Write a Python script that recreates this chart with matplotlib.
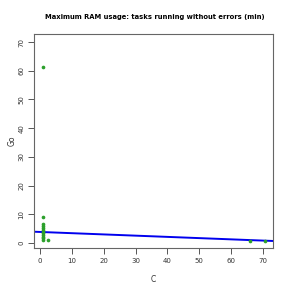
import matplotlib
matplotlib.use("Agg")
import matplotlib.pyplot as plt
import numpy as np

x_vals = [0.9, 0.9, 0.9, 0.9, 0.9, 0.9, 0.9, 0.9, 0.9, 0.9, 0.9, 0.9, 2.6, 66.0, 70.5]
y_vals = [61.3, 9.2, 6.7, 6.0, 5.3, 4.5, 3.9, 3.4, 2.8, 2.2, 1.6, 0.9, 0.9, 0.8, 0.8]
fit_intercept = 3.85
fit_slope = -0.043
x_ticks = [0, 10, 20, 30, 40, 50, 60, 70]
y_ticks = [0, 10, 20, 30, 40, 50, 60, 70]

fig = plt.figure(figsize=(2.91, 2.91), dpi=100)
ax = fig.add_axes([0.1168, 0.1467, 0.939 - 0.1168, 0.883 - 0.1467])

ax.scatter(x_vals, y_vals, s=7, color="#2ca02c", zorder=3, linewidths=0)
xlim = (-1.9, 73.2)
xl = np.array(xlim)
ax.plot(xl, fit_intercept + fit_slope * xl, color="#0000ee", lw=1.4, zorder=2)
ax.set_xlim(xlim)
ax.set_ylim(-1.85, 72.8)
ax.set_xticks(x_ticks)
ax.set_yticks(y_ticks)
ax.tick_params(labelsize=5, length=4, width=0.7, color="#555555", labelcolor="#333333", pad=3)
for lab in ax.get_yticklabels():
    lab.set_rotation(90)
    lab.set_va("center")
for s in ax.spines.values():
    s.set_color("#666666")
    s.set_linewidth(0.8)
ax.set_xlabel("C", fontsize=5.5, color="#333333", labelpad=8)
ax.set_ylabel("Go", fontsize=5.5, color="#333333", labelpad=1.5)
fig.text(0.533, 0.94, "Maximum RAM usage: tasks running without errors (min)",
         ha="center", va="center", fontsize=4.9, fontweight="bold")
fig.savefig("out.png", dpi=100)
